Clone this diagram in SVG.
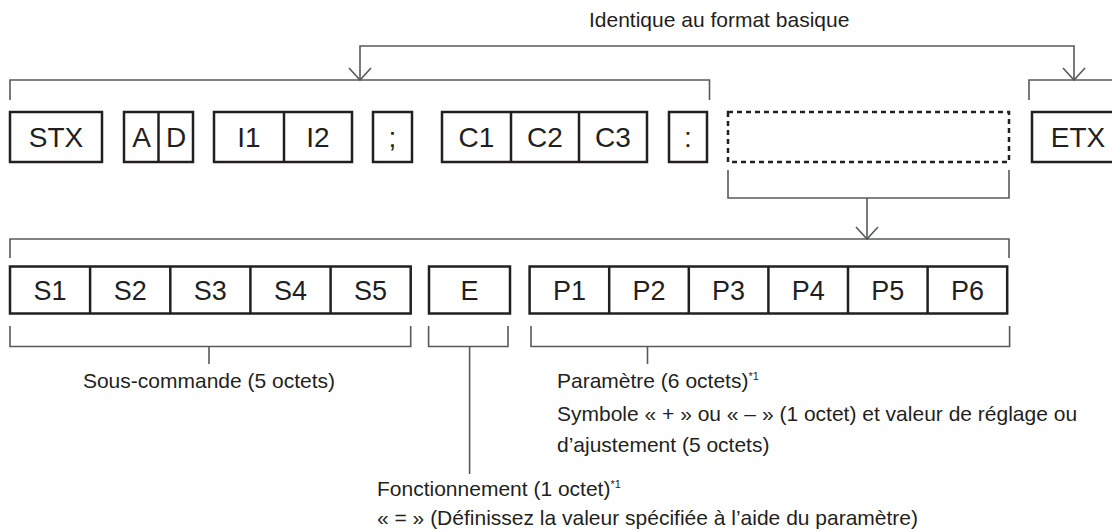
<svg xmlns="http://www.w3.org/2000/svg" width="1112" height="531" viewBox="0 0 1112 531">
<defs>
<style>
.box{fill:#fff;stroke:#231f20;stroke-width:2.5}
.div{stroke:#231f20;stroke-width:2.5;fill:none}
.dash{fill:none;stroke:#231f20;stroke-width:2.5;stroke-dasharray:5 4}
.ln{fill:none;stroke:#58595b;stroke-width:1.6}
.lbl{font-family:"Liberation Sans",Arial,sans-serif;font-size:28px;fill:#231f20;text-anchor:middle}
.lbl2{font-family:"Liberation Sans",Arial,sans-serif;font-size:27px;fill:#231f20;text-anchor:middle}
.txt{font-family:"Liberation Sans",Arial,sans-serif;font-size:21px;fill:#231f20}
.sup{font-size:11px}
</style>
</defs>
<rect width="1112" height="531" fill="#fff"/>

<g id="connectors">
<path class="ln" d="M360,80 L360,46 L1074,46 L1074,80" />
<path d="M349,68 L360,80 L371,68 M1063,68 L1074,80 L1085,68" class="ln"/>
<path class="ln" d="M10,100 L10,80 L709.5,80 L709.5,100"/>
<path class="ln" d="M1029,100 L1029,80 L1114,80"/>
<path class="ln" d="M728,170 L728,198 L1009,198 L1009,170"/>
<path class="ln" d="M867,198 L867,239"/>
<path class="ln" d="M856,227 L867,239 L878,227"/>
<path class="ln" d="M10,258 L10,239 L1009,239 L1009,258"/>
<path class="ln" d="M10,326 L10,346.5 L410.7,346.5 L410.7,326 M209,346.5 L209,364"/>
<path class="ln" d="M428.6,326 L428.6,346.5 L508,346.5 L508,326 M469.6,346.5 L469.6,474"/>
<path class="ln" d="M531,326 L531,346.5 L1009.6,346.5 L1009.6,326 M647.5,346.5 L647.5,364"/>
</g>

<g id="stx"><rect class="box" x="10" y="112" width="92" height="50"/><text class="lbl" x="56" y="147">STX</text></g>
<g id="ad"><rect class="box" x="124" y="112" width="69" height="50"/><line class="div" x1="158.5" y1="112" x2="158.5" y2="162"/><text class="lbl" x="141.5" y="147">A</text><text class="lbl" x="176" y="147">D</text></g>
<g id="i1i2"><rect class="box" x="214" y="112" width="138" height="50"/><line class="div" x1="284" y1="112" x2="284" y2="162"/><text class="lbl" x="249" y="147">I1</text><text class="lbl" x="318" y="147">I2</text></g>
<g id="semicolon"><rect class="box" x="373" y="112" width="39" height="50"/><text class="lbl" x="392.5" y="147">;</text></g>
<g id="c123"><rect class="box" x="442" y="112" width="205" height="50"/><line class="div" x1="511" y1="112" x2="511" y2="162"/><line class="div" x1="579" y1="112" x2="579" y2="162"/><text class="lbl" x="476.5" y="147">C1</text><text class="lbl" x="545" y="147">C2</text><text class="lbl" x="613" y="147">C3</text></g>
<g id="colon"><rect class="box" x="669" y="112" width="38" height="50"/><text class="lbl" x="688" y="147">:</text></g>
<g id="dashed"><rect class="dash" x="728" y="112" width="281" height="50"/></g>
<g id="etx"><rect class="box" x="1032" y="112" width="92" height="50"/><text class="lbl" x="1078" y="147">ETX</text></g>

<g id="sub"><rect class="box" x="10" y="266.5" width="400.7" height="47"/>
<line class="div" x1="90.1" y1="266.5" x2="90.1" y2="313.5"/><line class="div" x1="170.3" y1="266.5" x2="170.3" y2="313.5"/><line class="div" x1="250.4" y1="266.5" x2="250.4" y2="313.5"/><line class="div" x1="330.6" y1="266.5" x2="330.6" y2="313.5"/>
<text class="lbl2" x="50" y="300">S1</text><text class="lbl2" x="130.2" y="300">S2</text><text class="lbl2" x="210.3" y="300">S3</text><text class="lbl2" x="290.5" y="300">S4</text><text class="lbl2" x="370.6" y="300">S5</text></g>
<g id="e"><rect class="box" x="429" y="266.5" width="81" height="47"/><text class="lbl2" x="469.5" y="300">E</text></g>
<g id="param"><rect class="box" x="529.6" y="266.5" width="477.6" height="47"/>
<line class="div" x1="609.2" y1="266.5" x2="609.2" y2="313.5"/><line class="div" x1="688.8" y1="266.5" x2="688.8" y2="313.5"/><line class="div" x1="768.4" y1="266.5" x2="768.4" y2="313.5"/><line class="div" x1="848" y1="266.5" x2="848" y2="313.5"/><line class="div" x1="927.6" y1="266.5" x2="927.6" y2="313.5"/>
<text class="lbl2" x="569.4" y="300">P1</text><text class="lbl2" x="649" y="300">P2</text><text class="lbl2" x="728.6" y="300">P3</text><text class="lbl2" x="808.2" y="300">P4</text><text class="lbl2" x="887.8" y="300">P5</text><text class="lbl2" x="967.4" y="300">P6</text></g>

<g id="labels">
<text class="txt" x="589" y="27">Identique au format basique</text>
<text class="txt" x="209" y="388" text-anchor="middle">Sous-commande (5 octets)</text>
<text class="txt" x="557" y="388">Paramètre (6 octets)<tspan class="sup" dy="-8">*1</tspan></text>
<text class="txt" x="557" y="421">Symbole « + » ou « – » (1 octet) et valeur de réglage ou</text>
<text class="txt" x="557" y="452">d’ajustement (5 octets)</text>
<text class="txt" x="377" y="496">Fonctionnement (1 octet)<tspan class="sup" dy="-8">*1</tspan></text>
<text class="txt" x="377" y="525">« = » (Définissez la valeur spécifiée à l’aide du paramètre)</text>
</g>
</svg>
